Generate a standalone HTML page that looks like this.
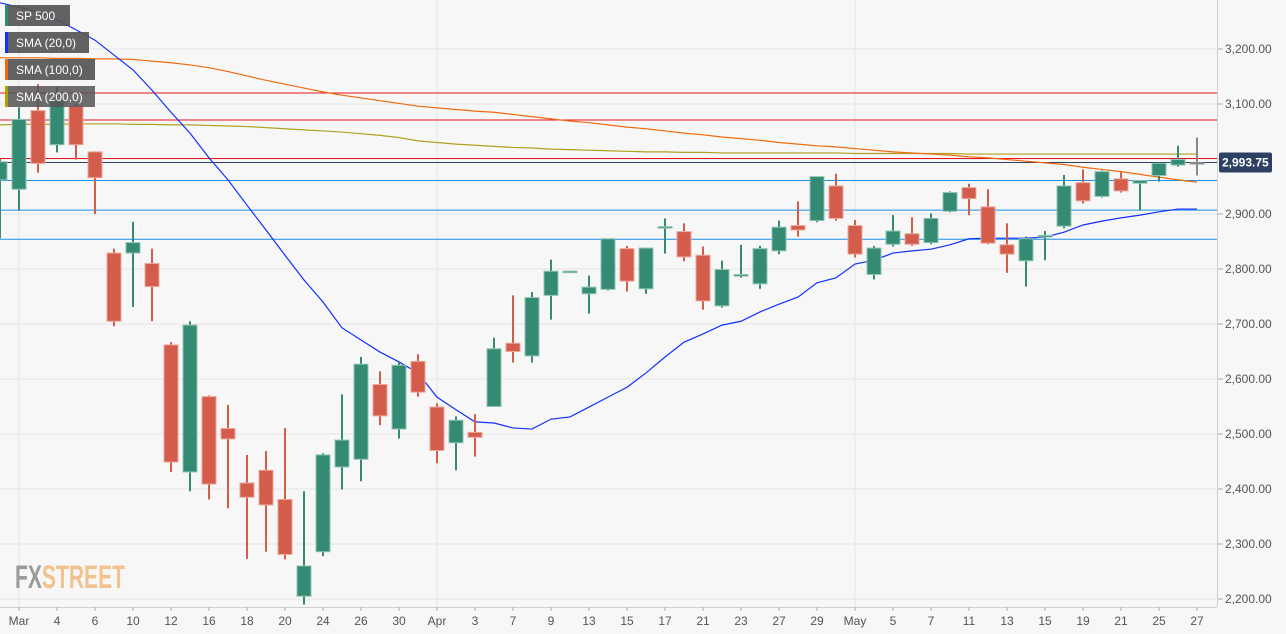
<!DOCTYPE html>
<html><head><meta charset="utf-8"><style>
body{margin:0;background:#f7f7f7;}
svg{display:block;font-family:"Liberation Sans",sans-serif;}
</style></head><body>
<svg id="chart" width="1286" height="634">
<rect x="0" y="0" width="1286" height="634" fill="#f7f7f7"/>
<g id="grid"></g>
<g id="hlines"></g>
<g id="smas"></g>
<g id="candles"></g>
<g id="axes"></g>
<g>
<text x="15" y="588" font-size="32" font-weight="bold" fill="#9a9a9a" textLength="110" lengthAdjust="spacingAndGlyphs">FX<tspan fill="#f2c38f">STREET</tspan></text>
</g>
<g>
<g><rect x="5" y="5" width="65" height="21" fill="#555" opacity="0.92"/><rect x="5" y="5" width="3" height="21" fill="#358a73"/><text x="16" y="20" font-size="12" fill="#fff">SP 500</text></g>
<g><rect x="5" y="32" width="84" height="21" fill="#555" opacity="0.92"/><rect x="5" y="32" width="3" height="21" fill="#1030ff"/><text x="16" y="47" font-size="12" fill="#fff">SMA (20,0)</text></g>
<g><rect x="5" y="59" width="90" height="21" fill="#555" opacity="0.92"/><rect x="5" y="59" width="3" height="21" fill="#f06a10"/><text x="16" y="74" font-size="12" fill="#fff">SMA (100,0)</text></g>
<g><rect x="5" y="86" width="90" height="21" fill="#555" opacity="0.85"/><rect x="5" y="86" width="3" height="21" fill="#b0a000"/><text x="16" y="101" font-size="12" fill="#fff">SMA (200,0)</text></g>
</g>
</svg>
<script>
const xLabels=["Mar","4","6","10","12","16","18","20","24","26","30","Apr","3","7","9","13","15","17","21","23","27","29","May","5","7","11","13","15","19","21","25","27"];
const yTicks=[3200,3100,3000,2900,2800,2700,2600,2500,2400,2300,2200];
const opens=[2962,2945,3088,3026,3096,3013,2829,2829,2810,2662,2431,2568,2510,2411,2434,2381,2205,2286,2440,2454,2590,2509,2632,2549,2484,2503,2550,2665,2642,2752,2795,2755,2763,2837,2764,2875,2868,2825,2733,2787,2773,2833,2879,2888,2951,2879,2790,2845,2864,2848,2905,2948,2913,2844,2815,2858,2878,2957,2932,2964,2956,2970,2989,2993.5];
const highs=[3000,3094,3136,3131,3101,3014,2837,2886,2837,2667,2705,2570,2553,2462,2469,2511,2396,2465,2572,2640,2614,2630,2645,2556,2532,2536,2675,2752,2758,2817,2797,2788,2855,2842,2839,2892,2883,2841,2815,2844,2842,2888,2923,2968,2973,2889,2842,2898,2894,2901,2941,2955,2945,2883,2859,2869,2971,2981,2979,2976,2961,2993,3024,3039];
const lows=[2856,2906,2975,3012,2999,2900,2696,2731,2705,2431,2396,2381,2365,2273,2286,2272,2190,2278,2399,2414,2516,2492,2568,2447,2434,2459,2550,2630,2630,2708,2794,2719,2761,2759,2755,2828,2814,2726,2730,2784,2764,2827,2859,2885,2888,2821,2781,2841,2842,2845,2903,2898,2845,2793,2768,2816,2874,2919,2930,2939,2907,2959,2986,2970];
const closes=[2995,3072,2992,3105,3026,2966,2705,2848,2768,2449,2698,2409,2491,2385,2371,2281,2260,2462,2489,2627,2533,2625,2576,2470,2525,2494,2655,2650,2748,2796,2796,2767,2855,2778,2838,2877,2822,2742,2799,2790,2837,2876,2871,2968,2892,2827,2838,2869,2845,2892,2939,2928,2847,2827,2855,2861,2951,2924,2977,2942,2961,2992,2999,2993.75];
const sma20=[3284,3276,3267,3253,3235,3216,3189,3162,3125,3085,3047,3002,2962,2916,2871,2825,2780,2740,2693,2671,2649,2631,2611,2567,2544,2522,2520,2511,2509,2527,2531,2549,2567,2585,2611,2640,2667,2682,2698,2705,2722,2736,2749,2775,2784,2809,2816,2829,2833,2836,2844,2855,2856,2856,2856,2858,2867,2880,2887,2893,2898,2904,2909,2909];
const sma100=[3184,3184,3184,3183,3183,3182,3182,3181,3178,3175,3171,3166,3159,3151,3143,3136,3129,3122,3116,3111,3106,3101,3096,3093,3090,3087,3085,3081,3077,3073,3069,3066,3062,3058,3055,3051,3047,3044,3040,3037,3034,3030,3027,3024,3022,3019,3016,3013,3011,3009,3007,3004,3002,2999,2996,2993,2990,2985,2981,2977,2972,2967,2962,2958];
const sma200=[3062,3063,3063,3063,3064,3064,3064,3063,3063,3062,3062,3061,3060,3059,3057,3055,3053,3051,3049,3046,3043,3039,3033,3030,3027,3025,3023,3021,3020,3018,3017,3016,3015,3014,3013,3013,3012,3012,3011,3011,3011,3011,3011,3011,3011,3010,3010,3010,3010,3010,3010,3009,3009,3009,3009,3009,3009,3009,3009,3009,3009,3009,3009,3009];
const levelValues=[3120,3071,3001];
const supportValues=[2961,2907,2854];
const lastPrice=2993.75;

const NS="http://www.w3.org/2000/svg";
function X(k){return 19+19*(k-1);}
function Y(v){return 49+(3200-v)*0.55;}
function mk(tag,attrs,parent){const e=document.createElementNS(NS,tag);for(const a in attrs)e.setAttribute(a,attrs[a]);parent.appendChild(e);return e;}
const PW=1217,PH=607;
const grid=document.getElementById('grid');
yTicks.forEach(v=>{const l=mk('line',{x1:0,x2:PW,y1:Y(v),y2:Y(v),stroke:'#e4e4e4','stroke-width':1},grid);

});
[1,23,45].forEach(k=>{const l=mk('line',{x1:X(k),x2:X(k),y1:0,y2:PH,stroke:'#e4e4e4','stroke-width':1},grid);

});
const hl=document.getElementById('hlines');
levelValues.forEach(v=>{const l=mk('line',{x1:0,x2:PW,y1:Y(v),y2:Y(v),stroke:'#e8141c','stroke-width':1},hl);

});
supportValues.forEach(v=>{const l=mk('line',{x1:0,x2:PW,y1:Y(v),y2:Y(v),stroke:'#1a8fe8','stroke-width':1},hl);

});
const pl=mk('line',{x1:0,x2:PW,y1:Y(lastPrice),y2:Y(lastPrice),stroke:'#2d4063','stroke-width':1},hl);


const sg=document.getElementById('smas');
function poly(arr,color,name){const p=mk('polyline',{points:arr.map((v,k)=>X(k)+','+Y(v)).join(' '),fill:'none',stroke:color,'stroke-width':1.2},sg);

}
poly(sma200,'#b0a020','sma-200-line');
poly(sma100,'#f06a10','sma-100-line');
poly(sma20,'#1030ff','sma-20-line');
const cg=document.getElementById('candles');
opens.forEach((o,k)=>{const c=closes[k];const d=c-o;
let col=d>0.8?'#358a73':(d<-0.8?'#d35c4a':'#888');
let stroke=d>0.8?'#8fc4b5':(d<-0.8?'#eda79c':'#888');
const g=mk('g',{},cg);


mk('line',{x1:X(k),x2:X(k),y1:Y(highs[k]),y2:Y(lows[k]),stroke:col,'stroke-width':2},g);
const top=Y(Math.max(o,c)),bot=Y(Math.min(o,c));
mk('rect',{x:X(k)-7,y:top,width:14,height:Math.max(bot-top,1.5),fill:col,stroke:stroke,'stroke-width':1},g);});
const ax=document.getElementById('axes');
mk('rect',{x:PW,y:0,width:69,height:634,fill:'#f7f7f7'},ax);
mk('rect',{x:0,y:PH,width:1286,height:27,fill:'#f7f7f7'},ax);
mk('line',{x1:PW+0.5,x2:PW+0.5,y1:0,y2:PH,stroke:'#cfcfcf'},ax);
mk('line',{x1:0,x2:PW,y1:PH+0.5,y2:PH+0.5,stroke:'#cfcfcf'},ax);
yTicks.forEach(v=>{mk('line',{x1:PW+1,x2:PW+6,y1:Y(v),y2:Y(v),stroke:'#aaa'},ax);
const t=mk('text',{x:PW+8,y:Y(v)+4,'font-size':12,fill:'#555'},ax);
t.textContent=v.toLocaleString('en-US',{minimumFractionDigits:2});

});
xLabels.forEach((s,j)=>{const k=1+2*j;mk('line',{x1:X(k),x2:X(k),y1:PH,y2:PH+4,stroke:'#aaa'},ax);
const t=mk('text',{x:X(k),y:625,'font-size':12,fill:'#555','text-anchor':'middle'},ax);
t.textContent=s;

});
const pb=mk('g',{},ax);


mk('rect',{x:PW+2,y:Y(lastPrice)-10,width:53,height:20,fill:'#2d4063',rx:2},pb);
const pt=mk('text',{x:PW+5,y:Y(lastPrice)+4,'font-size':12,'font-weight':'bold',fill:'#fff'},pb);
pt.textContent=lastPrice.toLocaleString('en-US',{minimumFractionDigits:2});
</script>
</body></html>
